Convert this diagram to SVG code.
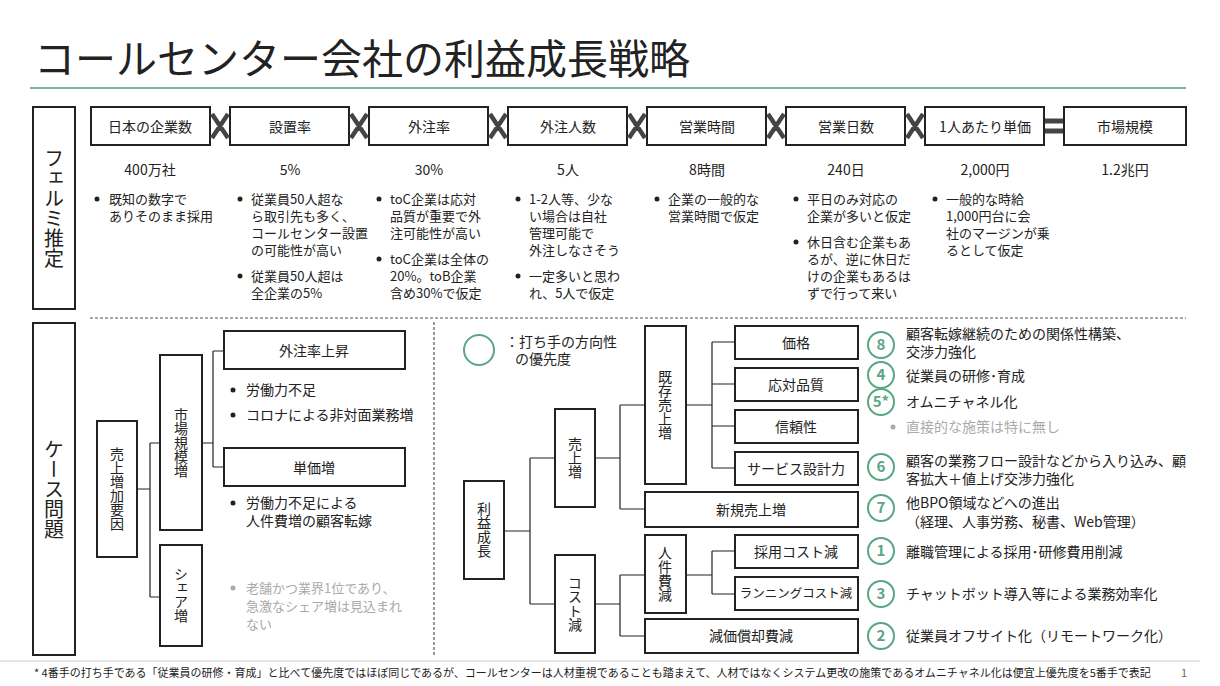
<svg xmlns="http://www.w3.org/2000/svg" width="1220" height="686" viewBox="0 0 1220 686">
<defs>
<style>
text{font-family:"Noto Sans CJK JP","Noto Sans",sans-serif;fill:#222;font-size:14px}
.s{font-size:13px}
.b{fill:#fff;stroke:#222;stroke-width:2}
.c{text-anchor:middle}
.l{fill:none;stroke:#222;stroke-width:1.2}
.g{fill:#aaa}
.dot{fill:#222}
.gd{fill:#aaa}
.x{stroke:#444;stroke-width:4.5;fill:none}
.ci{fill:#fff;stroke:#5aa585;stroke-width:2}
.cn{fill:#5aa585;font-weight:bold;font-size:15px;text-anchor:middle}
.v{writing-mode:tb;glyph-orientation-vertical:0;text-anchor:middle}
.d{fill:none;stroke:#555;stroke-width:1.2;stroke-dasharray:3 2}
</style>
</defs>
<rect width="1220" height="686" fill="#fff"/>
<text x="34" y="74" style="font-size:41px">コールセンター会社の利益成長戦略</text>
<line x1="30" y1="88" x2="1186" y2="88" stroke="#5a9a80" stroke-width="1.5"/>

<g id="fermi">
<rect class="b" x="33" y="107" width="42" height="202"/>
<text class="v" x="54" y="208" style="font-size:20px">フェルミ推定</text>
<g id="f1"><rect class="b" x="91" y="107" width="119" height="38"/><text class="c" x="150" y="132">日本の企業数</text></g>
<g id="f2"><rect class="b" x="230" y="107" width="119" height="38"/><text class="c" x="290" y="132">設置率</text></g>
<g id="f3"><rect class="b" x="369" y="107" width="119" height="38"/><text class="c" x="429" y="132">外注率</text></g>
<g id="f4"><rect class="b" x="508" y="107" width="119" height="38"/><text class="c" x="568" y="132">外注人数</text></g>
<g id="f5"><rect class="b" x="647" y="107" width="119" height="38"/><text class="c" x="707" y="132">営業時間</text></g>
<g id="f6"><rect class="b" x="786" y="107" width="119" height="38"/><text class="c" x="846" y="132">営業日数</text></g>
<g id="f7"><rect class="b" x="925" y="107" width="119" height="38"/><text class="c" x="985" y="132">1人あたり単価</text></g>
<g id="f8"><rect class="b" x="1064" y="107" width="122" height="38"/><text class="c" x="1125" y="132">市場規模</text></g>
<g id="ops">
<path class="x" d="M212 114L228 138M228 114L212 138M351 114L367 138M367 114L351 138M490 114L506 138M506 114L490 138M629 114L645 138M645 114L629 138M768 114L784 138M784 114L768 138M907 114L923 138M923 114L907 138"/>
<path stroke="#444" stroke-width="5" d="M1045 121H1063M1045 131H1063"/>
</g>
<text class="c" x="150" y="175">400万社</text>
<text class="c" x="290" y="175">5%</text>
<text class="c" x="429" y="175">30%</text>
<text class="c" x="568" y="175">5人</text>
<text class="c" x="707" y="175">8時間</text>
<text class="c" x="846" y="175">240日</text>
<text class="c" x="985" y="175">2,000円</text>
<text class="c" x="1125" y="175">1.2兆円</text>
<g>
<circle class="dot" cx="97" cy="199" r="2.5"/><text class="s" x="109" y="204">既知の数字で</text><text class="s" x="109" y="221">ありそのまま採用</text>
<circle class="dot" cx="240" cy="199" r="2.5"/><text class="s" x="251" y="204">従業員50人超な</text><text class="s" x="251" y="221">ら取引先も多く、</text><text class="s" x="251" y="238">コールセンター設置</text><text class="s" x="251" y="255">の可能性が高い</text>
<circle class="dot" cx="240" cy="276" r="2.5"/><text class="s" x="251" y="281">従業員50人超は</text><text class="s" x="251" y="298">全企業の5%</text>
<circle class="dot" cx="379" cy="199" r="2.5"/><text class="s" x="390" y="204">toC企業は応対</text><text class="s" x="390" y="221">品質が重要で外</text><text class="s" x="390" y="238">注可能性が高い</text>
<circle class="dot" cx="379" cy="259" r="2.5"/><text class="s" x="390" y="264">toC企業は全体の</text><text class="s" x="390" y="281">20%。toB企業</text><text class="s" x="390" y="298">含め30%で仮定</text>
<circle class="dot" cx="518" cy="199" r="2.5"/><text class="s" x="529" y="204">1-2人等、少な</text><text class="s" x="529" y="221">い場合は自社</text><text class="s" x="529" y="238">管理可能で</text><text class="s" x="529" y="255">外注しなさそう</text>
<circle class="dot" cx="518" cy="276" r="2.5"/><text class="s" x="529" y="281">一定多いと思わ</text><text class="s" x="529" y="298">れ、5人で仮定</text>
<circle class="dot" cx="657" cy="199" r="2.5"/><text class="s" x="668" y="204">企業の一般的な</text><text class="s" x="668" y="221">営業時間で仮定</text>
<circle class="dot" cx="796" cy="199" r="2.5"/><text class="s" x="807" y="204">平日のみ対応の</text><text class="s" x="807" y="221">企業が多いと仮定</text>
<circle class="dot" cx="796" cy="242" r="2.5"/><text class="s" x="807" y="247">休日含む企業もあ</text><text class="s" x="807" y="264">るが、逆に休日だ</text><text class="s" x="807" y="281">けの企業もあるは</text><text class="s" x="807" y="298">ずで行って来い</text>
<circle class="dot" cx="935" cy="199" r="2.5"/><text class="s" x="946" y="204">一般的な時給</text><text class="s" x="946" y="221">1,000円台に会</text><text class="s" x="946" y="238">社のマージンが乗</text><text class="s" x="946" y="255">るとして仮定</text>
</g>
</g>

<line class="d" x1="90" y1="318" x2="1186" y2="318"/>
<line class="d" x1="434" y1="322" x2="434" y2="655"/>

<g id="connectors">
<path class="l" d="M137 489H150M150 443V597M150 443H160M150 597H160"/>
<path class="l" d="M202 443H213M213 351V467M213 351H224M213 467H224"/>
<path class="l" d="M504 531H530M530 458V604M530 458H555M530 604H555"/>
<path class="l" d="M595 458H620M620 405V509M620 405H645M620 509H645"/>
<path class="l" d="M595 604H620M620 575V636M620 575H645M620 636H645"/>
<path class="l" d="M686 405H712M712 342V468M712 342H735M712 384H735M712 426H735M712 468H735"/>
<path class="l" d="M686 575H712M712 551V594M712 551H735M712 594H735"/>
</g>

<g id="case">
<rect class="b" x="33" y="323" width="42" height="332"/>
<text class="v" x="54" y="489" style="font-size:20px">ケース問題</text>
<g id="n1"><rect class="b" x="97" y="421" width="40" height="136"/><text class="v" x="117" y="489">売上増加要因</text></g>
<g id="n2"><rect class="b" x="160" y="355" width="42" height="175"/><text class="v" x="181" y="443">市場規模増</text></g>
<g id="n3"><rect class="b" x="160" y="545" width="42" height="101"/><text class="v" x="181" y="595">シェア増</text></g>
<g id="n4"><rect class="b" x="224" y="331" width="181" height="38"/><text class="c" x="314" y="356">外注率上昇</text></g>
<g id="n5"><rect class="b" x="224" y="448" width="181" height="38"/><text class="c" x="314" y="473">単価増</text></g>
<circle class="dot" cx="233" cy="390" r="2.5"/><text x="246" y="395">労働力不足</text>
<circle class="dot" cx="233" cy="415" r="2.5"/><text x="246" y="420">コロナによる非対面業務増</text>
<circle class="dot" cx="233" cy="503" r="2.5"/><text x="246" y="508">労働力不足による</text><text x="246" y="526">人件費増の顧客転嫁</text>
<circle class="gd" cx="233" cy="588" r="2.5"/><text class="g s" x="246" y="593">老舗かつ業界1位であり、</text><text class="g s" x="246" y="611">急激なシェア増は見込まれ</text><text class="g s" x="246" y="629">ない</text>
</g>

<g id="tree">
<circle class="ci" cx="479" cy="350" r="15"/>
<text x="505" y="347">：打ち手の方向性</text><text x="515" y="364">の優先度</text>
<g id="t1"><rect class="b" x="464" y="481" width="40" height="98"/><text class="v" x="484" y="530">利益成長</text></g>
<g id="t2"><rect class="b" x="555" y="409" width="40" height="98"/><text class="v" x="575" y="458">売上増</text></g>
<g id="t3"><rect class="b" x="555" y="555" width="40" height="98"/><text class="v" x="575" y="604">コスト減</text></g>
<g id="t4"><rect class="b" x="645" y="326" width="41" height="158"/><text class="v" x="665" y="405">既存売上増</text></g>
<g id="t5"><rect class="b" x="645" y="492" width="213" height="35"/><text class="c" x="751" y="515">新規売上増</text></g>
<g id="t6"><rect class="b" x="645" y="535" width="41" height="78"/><text class="v" x="665" y="574">人件費減</text></g>
<g id="t7"><rect class="b" x="645" y="619" width="213" height="34"/><text class="c" x="751" y="641">減価償却費減</text></g>
<g id="t8"><rect class="b" x="735" y="326" width="123" height="33"/><text class="c" x="796" y="348">価格</text></g>
<g id="t9"><rect class="b" x="735" y="368" width="123" height="33"/><text class="c" x="796" y="390">応対品質</text></g>
<g id="t10"><rect class="b" x="735" y="410" width="123" height="33"/><text class="c" x="796" y="432">信頼性</text></g>
<g id="t11"><rect class="b" x="735" y="452" width="123" height="33"/><text class="c" x="796" y="474">サービス設計力</text></g>
<g id="t12"><rect class="b" x="735" y="535" width="123" height="33"/><text class="c" x="796" y="557">採用コスト減</text></g>
<g id="t13"><rect class="b" x="735" y="577" width="123" height="33"/><text class="c" x="796" y="598" style="font-size:12.5px">ランニングコスト減</text></g>
</g>

<g id="priorities">
<g id="p8"><circle class="ci" cx="881" cy="345" r="13"/><text class="cn" x="881" y="350">8</text><text x="906" y="339">顧客転嫁継続のための関係性構築、</text><text x="906" y="357">交渉力強化</text></g>
<g id="p4"><circle class="ci" cx="881" cy="375" r="13"/><text class="cn" x="881" y="380">4</text><text x="906" y="381">従業員の研修･育成</text></g>
<g id="p5"><circle class="ci" cx="881" cy="402" r="13"/><text class="cn" x="881" y="407">5*</text><text x="906" y="407">オムニチャネル化</text></g>
<circle class="gd" cx="893" cy="427" r="2.5"/><text class="g" x="906" y="432">直接的な施策は特に無し</text>
<g id="p6"><circle class="ci" cx="881" cy="467" r="13"/><text class="cn" x="881" y="472">6</text><text x="906" y="466">顧客の業務フロー設計などから入り込み、顧</text><text x="906" y="484">客拡大＋値上げ交渉力強化</text></g>
<g id="p7"><circle class="ci" cx="881" cy="508" r="13"/><text class="cn" x="881" y="513">7</text><text x="906" y="508">他BPO領域などへの進出</text><text x="906" y="527">（経理、人事労務、秘書、Web管理）</text></g>
<g id="p1"><circle class="ci" cx="881" cy="551" r="13"/><text class="cn" x="881" y="556">1</text><text x="906" y="557">離職管理による採用･研修費用削減</text></g>
<g id="p3"><circle class="ci" cx="881" cy="594" r="13"/><text class="cn" x="881" y="599">3</text><text x="906" y="599">チャットボット導入等による業務効率化</text></g>
<g id="p2"><circle class="ci" cx="881" cy="636" r="13"/><text class="cn" x="881" y="641">2</text><text x="906" y="641">従業員オフサイト化（リモートワーク化）</text></g>
</g>

<line x1="0" y1="661" x2="1200" y2="661" stroke="#ccc" stroke-width="1"/>
<text x="34" y="677" style="font-size:11px">*  4番手の打ち手である「従業員の研修・育成」と比べて優先度ではほぼ同じであるが、コールセンターは人材重視であることも踏まえて、人材ではなくシステム更改の施策であるオムニチャネル化は便宜上優先度を5番手で表記</text>
<text x="1181" y="677" style="font-size:11px;fill:#666">1</text>
</svg>
